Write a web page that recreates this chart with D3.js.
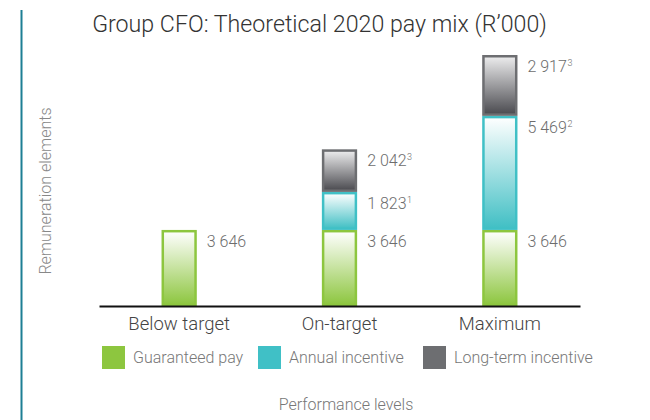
<!DOCTYPE html>
<html><head><meta charset="utf-8">
<script src="https://cdn.jsdelivr.net/npm/d3@7"></script>
<style>body{margin:0;background:#fff;}svg{display:block;font-family:Roboto,"Noto Sans",sans-serif;font-weight:300;}</style>
</head><body><svg id="c" width="650" height="420"></svg>
<script>
const categories = ["Below target", "On-target", "Maximum"];
const seriesNames = ["Guaranteed pay", "Annual incentive", "Long-term incentive"];
const guaranteed = [3646, 3646, 3646];
const annual = [0, 1823, 5469];
const longterm = [0, 2042, 2917];
const annualNotes = ["", "1", "2"];
const longtermNotes = ["", "3", "3"];
const colors = ["#8dc63f", "#40c0c6", "#6d6e71"];
const labelFmt = v => d3.format(",")(v).replace(/,/g, " ");

const svg = d3.select("#c");
const defs = svg.append("defs");
const grads = [["#ffffff", "#8dc63f"], ["#ffffff", "#40bfc4"], ["#ededee", "#4a4a4f"]];
grads.forEach((g, i) => {
  const lg = defs.append("linearGradient").attr("id", "g" + i).attr("x1", 0).attr("y1", 0).attr("x2", 0).attr("y2", 1);
  lg.append("stop").attr("offset", "0%").attr("stop-color", g[0]);
  lg.append("stop").attr("offset", "100%").attr("stop-color", g[1]);
});

svg.append("line").attr("x1", 21.5).attr("x2", 21.5).attr("y1", 10).attr("y2", 420)
  .attr("stroke", "#1d7f94").attr("stroke-width", 2);

svg.append("text").attr("x", 319.5).attr("y", 32).attr("text-anchor", "middle")
  .attr("font-size", 23.2).attr("fill", "#333").text("Group CFO: Theoretical 2020 pay mix (R\u2019000)");

const x = d3.scaleBand().domain(categories).range([99, 580]).paddingInner(0.78).paddingOuter(0.39);
const y = d3.scaleLinear().domain([0, 12032]).range([306, 55]);

const rows = categories.map((c, i) => ({ c, vals: [guaranteed[i], annual[i], longterm[i]], notes: ["", annualNotes[i], longtermNotes[i]] }));
const segs = [];
rows.forEach(r => {
  let acc = 0;
  r.vals.forEach((v, k) => {
    if (v > 0) segs.push({ c: r.c, k, y0: acc, y1: acc + v, v, note: r.notes[k] });
    acc += v;
  });
});

const bw = x.bandwidth();
svg.append("g").selectAll("rect").data(segs).join("rect")
  .attr("x", d => x(d.c) + 1.25)
  .attr("width", bw - 2.5)
  .attr("y", d => y(d.y1) + 1.25)
  .attr("height", d => y(d.y0) - y(d.y1) - 2.5)
  .attr("fill", d => `url(#g${d.k})`)
  .attr("stroke", d => colors[d.k]).attr("stroke-width", 2.5);

const lbl = svg.append("g").selectAll("text").data(segs).join("text")
  .attr("x", d => x(d.c) + bw + 10)
  .attr("y", d => y(d.y1) + 17)
  .attr("font-size", 16).attr("fill", "#6d6d6d");
lbl.append("tspan").text(d => labelFmt(d.v));
lbl.append("tspan").attr("font-size", 9).attr("dx", 0.5).attr("dy", -6).text(d => d.note);

const ax = svg.append("g").attr("transform", "translate(0,306)")
  .call(d3.axisBottom(x).tickSize(0).tickPadding(11));
ax.select(".domain").attr("stroke", "#111").attr("stroke-width", 2);
ax.selectAll("text").attr("font-size", 18.5).attr("fill", "#444")
  .attr("font-family", "Roboto,sans-serif").attr("font-weight", 300);

const legX = [102, 258, 423];
const leg = svg.append("g").selectAll("g").data(seriesNames).join("g")
  .attr("transform", (d, i) => `translate(${legX[i]},346)`);
leg.append("rect").attr("width", 23).attr("height", 23).attr("fill", (d, i) => colors[i]);
leg.append("text").attr("x", 31).attr("y", 17).attr("font-size", 16).attr("fill", "#777").text(d => d);

svg.append("text").attr("x", 346).attr("y", 410).attr("text-anchor", "middle")
  .attr("font-size", 16).attr("fill", "#777").text("Performance levels");

svg.append("text").attr("transform", "translate(51,191) rotate(-90)").attr("text-anchor", "middle")
  .attr("font-size", 16).attr("fill", "#888").text("Remuneration elements");
</script></body></html>
